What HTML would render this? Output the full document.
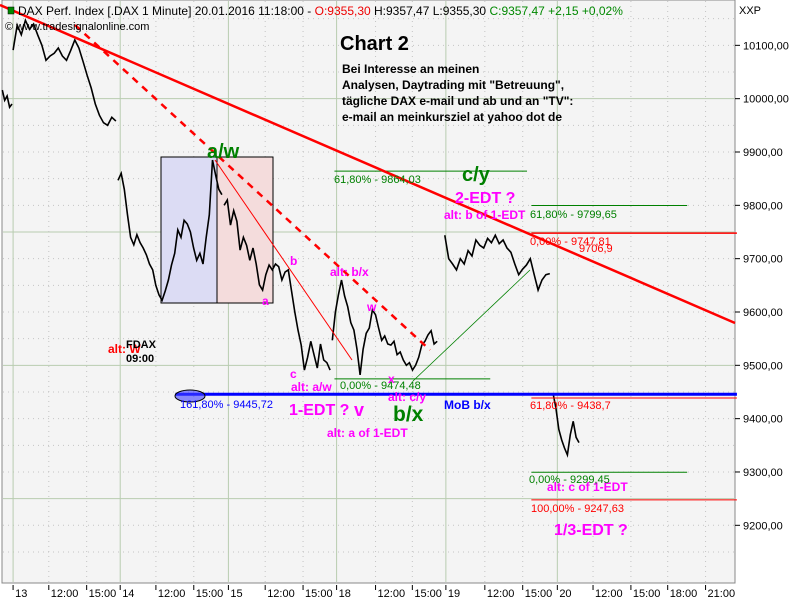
<!DOCTYPE html>
<html><head><meta charset="utf-8"><style>
body{margin:0;background:#fff;font-family:"Liberation Sans","DejaVu Sans",sans-serif;}
svg text{font-family:"Liberation Sans","DejaVu Sans",sans-serif;}
</style></head><body>
<svg id="chart" width="800" height="600" xmlns="http://www.w3.org/2000/svg">
<rect x="0" y="0" width="800" height="600" fill="#fff"/>
<rect x="2" y="0" width="733" height="583" fill="#f4f4f4" stroke="#888"/>
<g id="grid"></g>
<g id="overlay-back">
<rect x="161" y="157" width="56" height="146" fill="#dcdcf4" stroke="#000"/>
<rect x="217" y="157" width="56" height="146" fill="#f4dcdc" stroke="#000"/>
</g>
<g id="series"></g>
<g id="overlay"></g>
<g id="axes"></g>
<g id="labels" font-size="11">
<text x="18" y="15" font-size="12" fill="#000">DAX Perf. Index [.DAX  1 Minute] 20.01.2016 11:18:00 - <tspan fill="#e00">O:9355,30</tspan> H:9357,47 L:9355,30 <tspan fill="#080">C:9357,47 +2,15 +0,02%</tspan></text>
<rect x="8" y="7" width="6" height="7" fill="#080" stroke="#000" stroke-width="0.5"/>
<text x="5" y="30" font-size="11" fill="#000">© www.tradesignalonline.com</text>
<text x="739" y="14" font-size="11" fill="#000">XXP</text>
<text x="340" y="50" font-size="20" font-weight="bold" fill="#000">Chart 2</text>
<g font-size="12" font-weight="bold" fill="#000">
<text x="342" y="73">Bei Interesse an meinen</text>
<text x="342" y="89">Analysen, Daytrading mit "Betreuung",</text>
<text x="342" y="105">tägliche DAX e-mail und ab und an "TV":</text>
<text x="342" y="121">e-mail an    meinkursziel at yahoo dot de</text>
</g>
<g font-weight="bold" fill="#008000">
<text x="207" y="158" font-size="20">a/w</text>
<text x="462" y="181" font-size="20">c/y</text>
<text x="393" y="421" font-size="21">b/x</text>
</g>
<g fill="#ff00ff" font-weight="bold">
<text x="455" y="203" font-size="16">2-EDT ?</text>
<text x="444" y="219" font-size="12">alt: b of 1-EDT</text>
<text x="290" y="265" font-size="12">b</text>
<text x="262" y="305" font-size="12">a</text>
<text x="290" y="378" font-size="12">c</text>
<text x="367" y="311" font-size="12">w</text>
<text x="330" y="276" font-size="12">alt: b/x</text>
<text x="291" y="391" font-size="12">alt: a/w</text>
<text x="388" y="383" font-size="12">x</text>
<text x="388" y="401" font-size="12">alt: c/y</text>
<text x="289" y="415" font-size="16">1-EDT ?</text>
<text x="354" y="416" font-size="18">v</text>
<text x="327" y="437" font-size="12">alt: a of 1-EDT</text>
<text x="547" y="491" font-size="12">alt: c of 1-EDT</text>
<text x="554" y="535" font-size="16">1/3-EDT ?</text>
</g>
<text x="108" y="353" font-size="12" font-weight="bold" fill="#f00">alt: W</text>
<text x="126" y="348" font-size="11" font-weight="bold" fill="#000">FDAX</text>
<text x="126" y="362" font-size="11" font-weight="bold" fill="#000">09:00</text>
<text x="334" y="183" fill="#008000">61,80% - 9864,03</text>
<text x="340" y="389" fill="#008000">0,00% - 9474,48</text>
<ellipse cx="190" cy="396" rx="15" ry="6" fill="#4040ff" fill-opacity="0.6" stroke="#000"/>
<text x="180" y="408" fill="#0000ff">161,80% - 9445,72</text>
<text x="444" y="409" font-size="12" font-weight="bold" fill="#0000ff">MoB b/x</text>
<text x="530" y="218" fill="#008000">61,80% - 9799,65</text>
<text x="530" y="245" fill="#f00">0,00% - 9747,81</text>
<text x="579" y="252" fill="#f00">9706,9</text>
<text x="530" y="409" fill="#f00">61,80% - 9438,7</text>
<text x="529" y="483" fill="#008000">0,00% - 9299,45</text>
<text x="531" y="512" fill="#f00">100,00% - 9247,63</text>
</g>
</svg>
<script>
// ---- data ----
const priceTicks = [10100, 10000, 9900, 9800, 9700, 9600, 9500, 9400, 9300, 9200];
const timeTickLabels = ["13","12:00","15:00","14","12:00","15:00","15","12:00","15:00","18","12:00","15:00","19","12:00","15:00","20","12:00","15:00","18:00","21:00"];
const timeTickValues = [0.01,0.34,0.69,1.0,1.33,1.68,2.0,2.34,2.69,3.0,3.36,3.7,4.01,4.37,4.72,5.04,5.37,5.72,6.06,6.41];
const segStarts = [-0.09, 0.01, 0.98, 1.96, 2.96, 4.0, 5.0];
const segEnds   = [0.0, 0.96, 1.94, 2.94, 3.93, 4.97, 5.24];
const seg0 = [10016,9997,10005,9984,9990];
const seg1 = [10091,10138,10120,10147,10130,10140,10119,10100,10072,10080,10085,10095,10080,10072,10090,10110,10095,10070,10044,10020,9990,9969,9955,9950,9965,9958];
const seg2 = [9847,9860,9830,9782,9740,9726,9745,9730,9720,9707,9690,9679,9650,9632,9622,9640,9660,9688,9710,9754,9740,9772,9765,9750,9720,9697,9710,9690,9740,9782,9885,9857,9830,9820];
const seg3 = [9800,9810,9763,9790,9770,9716,9740,9725,9697,9720,9690,9651,9641,9670,9688,9679,9690,9685,9660,9675,9679,9640,9600,9566,9538,9491,9515,9545,9520,9495,9540,9510,9505,9491];
const seg4 = [9547,9600,9632,9660,9630,9610,9580,9566,9530,9482,9530,9560,9570,9604,9595,9570,9547,9555,9540,9538,9545,9520,9525,9510,9500,9505,9491,9500,9515,9538,9545,9557,9565,9540,9545];
const seg5 = [9744,9700,9690,9679,9700,9690,9715,9705,9735,9725,9720,9738,9730,9744,9728,9735,9720,9712,9690,9670,9680,9688,9700,9670,9641,9660,9670,9672];
const seg6 = [9448,9420,9380,9360,9345,9332,9370,9395,9365,9355];
const segments = [seg0,seg1,seg2,seg3,seg4,seg5,seg6];
const hLevels = [9864.03, 9474.48, 9445.72, 9438.7, 9799.65, 9747.81, 9299.45, 9247.63];
const hStartT = [2.98, 2.98, 1.51, 4.8, 4.8, 4.8, 4.8, 4.8];
const hEndT   = [4.76, 4.42, 6.7, 6.7, 6.24, 6.7, 6.24, 6.7];
const hColors = ["#008000","#008000","#0000ff","#f00","#008000","#f00","#008000","#f00"];
const hWidths = [1,1,3,1,1,1.5,1,1];

// ---- axes ----
const NS = "http://www.w3.org/2000/svg";
function x(t){ return 12 + 108.2*t; }
function y(p){ return 152 + (9900-p)*0.5333; }
function mk(tag, attrs, parent){
  const e = document.createElementNS(NS, tag);
  for (const k in attrs) e.setAttribute(k, attrs[k]);
  parent.appendChild(e); return e;
}
const grid = document.getElementById('grid');
for (let p = 9150; p <= 10200; p += 50) {
  const solid = (p % 250 === 0);
  const l = mk('line', {x1:3, x2:734, y1:y(p), y2:y(p), stroke: solid ? '#b8ccb0' : '#c4c4c4', 'stroke-dasharray': solid ? '' : '1,4'}, grid);
  
  
}
timeTickValues.forEach((t, i) => {
  const day = /^\d\d$/.test(timeTickLabels[i]);
  const l = mk('line', {x1:x(t), x2:x(t), y1:1, y2:582, stroke: day ? '#b8ccb0' : '#c4c4c4', 'stroke-dasharray': day ? '' : '1,4'}, grid);
  
  
});
const axes = document.getElementById('axes');
priceTicks.forEach(p => {
  const tk = mk('line', {x1:735, x2:740, y1:y(p), y2:y(p), stroke:'#000'}, axes);
  
  
  const tx = mk('text', {x:743, y:y(p)+4, 'font-size':11, fill:'#000'}, axes);
  tx.textContent = p.toFixed(2).replace('.', ',');
  
  
});
timeTickValues.forEach((t, i) => {
  const tk = mk('line', {x1:x(t), x2:x(t), y1:585, y2:590, stroke:'#000'}, axes);
  
  
  const tx = mk('text', {x:x(t)+2, y:597, 'font-size':11, fill:'#000'}, axes);
  tx.textContent = timeTickLabels[i];
  
  
});

// ---- price series ----
const series = document.getElementById('series');
segments.forEach((seg, si) => {
  const t0 = segStarts[si], t1 = segEnds[si];
  const pts = seg.map((p, i) => {
    const t = t0 + (t1 - t0) * (seg.length > 1 ? i/(seg.length-1) : 0);
    return x(t).toFixed(1) + ',' + y(p).toFixed(1);
  }).join(' ');
  const pl = mk('polyline', {points:pts, fill:'none', stroke:'#000', 'stroke-width':1.6}, series);
  
  
});

// ---- overlays ----
const ov = document.getElementById('overlay');
hLevels.forEach((p, i) => {
  const l = mk('line', {x1:x(hStartT[i]), x2:x(hEndT[i]), y1:y(p), y2:y(p), stroke:hColors[i], 'stroke-width':hWidths[i]}, ov);
  
  
});
const t1 = mk('line', {x1:0, y1:5, x2:735, y2:323, stroke:'#f00', 'stroke-width':2.5}, ov);


const t2 = mk('line', {x1:75, y1:25, x2:430, y2:350, stroke:'#f00', 'stroke-width':2.5, 'stroke-dasharray':'7,6'}, ov);


const t3 = mk('line', {x1:215, y1:160, x2:352, y2:360, stroke:'#f00', 'stroke-width':1}, ov);


const t4 = mk('line', {x1:413, y1:381, x2:530, y2:270, stroke:'#008000', 'stroke-width':0.8}, ov);


</script>
</body></html>
